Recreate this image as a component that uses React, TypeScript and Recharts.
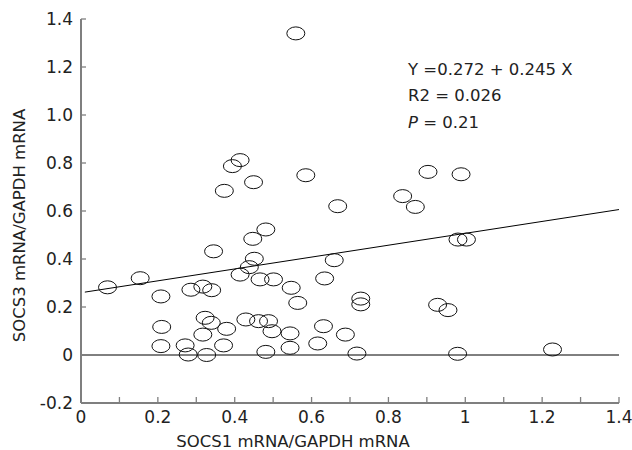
import React from 'react';
import { ScatterChart, Scatter, XAxis, YAxis, ReferenceLine, Label } from 'recharts';

const socs1: number[] = [
  0.559, 0.394, 0.414, 0.449, 0.373, 0.585, 0.668, 0.903, 0.989, 0.837, 0.87,
  0.069, 0.154, 0.208, 0.21, 0.208, 0.271, 0.279, 0.286, 0.317, 0.34, 0.345,
  0.323, 0.339, 0.317, 0.327, 0.379, 0.371, 0.414, 0.438, 0.451, 0.447, 0.481,
  0.466, 0.501, 0.429, 0.462, 0.488, 0.497, 0.481, 0.547, 0.564, 0.544, 0.544,
  0.616, 0.631, 0.634, 0.659, 0.688, 0.718, 0.728, 0.728, 0.981, 1.003, 0.928,
  0.955, 0.98, 1.227,
];
const socs3: number[] = [
  1.34, 0.787, 0.812, 0.72, 0.684, 0.749, 0.62, 0.763, 0.753, 0.662, 0.617,
  0.282, 0.32, 0.244, 0.117, 0.037, 0.04, 0.002, 0.272, 0.285, 0.27, 0.432,
  0.155, 0.134, 0.085, 0.0, 0.109, 0.04, 0.335, 0.366, 0.401, 0.484, 0.523,
  0.315, 0.315, 0.148, 0.141, 0.141, 0.099, 0.013, 0.28, 0.217, 0.09, 0.03,
  0.048, 0.12, 0.319, 0.395, 0.085, 0.006, 0.235, 0.211, 0.481, 0.481, 0.209,
  0.187, 0.005, 0.023,
];

const fitX: number[] = [0.01, 1.4];
const fitY: number[] = [0.262, 0.606];

const xTicks: number[] = [0, 0.1, 0.2, 0.3, 0.4, 0.5, 0.6, 0.7, 0.8, 0.9, 1.0, 1.1, 1.2, 1.3, 1.4];
const xTickLabels: string[] = ['0', '', '0.2', '', '0.4', '', '0.6', '', '0.8', '', '1', '', '1.2', '', '1.4'];
const yTicks: number[] = [-0.2, 0, 0.2, 0.4, 0.6, 0.8, 1.0, 1.2, 1.4];
const yTickLabels: string[] = ['-0.2', '0', '0.2', '0.4', '0.6', '0.8', '1.0', '1.2', '1.4'];

const xTitle = 'SOCS1 mRNA/GAPDH mRNA';
const yTitle = 'SOCS3 mRNA/GAPDH mRNA';
const eqLines: string[] = ['Y =0.272 + 0.245 X', 'R2 = 0.026'];
const pLine = { label: 'P', value: ' = 0.21' };

const points = socs1.map((x, i) => ({ x, y: socs3[i] }));
const fitData = fitX.map((x, i) => ({ x, y: fitY[i] }));

const FONT = 'DejaVu Sans';
const TEXT = '#222';
const AXIS = '#7f7f7f';

const labelFor = (v: number, ticks: number[], labels: string[]) => {
  let best = 0;
  for (let i = 0; i < ticks.length; i++) {
    if (Math.abs(ticks[i] - v) < Math.abs(ticks[best] - v)) best = i;
  }
  return labels[best];
};

const XTick = (props: any) => {
  const { x, y, payload } = props;
  const lbl = labelFor(payload.value, xTicks, xTickLabels);
  return (
    <g>
      <line x1={x} y1={y} x2={x} y2={y - 6} stroke={AXIS} strokeWidth={1.3} />
      {lbl && (
        <text x={x} y={y + 20} textAnchor="middle" fontFamily={FONT} fontSize={17} fill={TEXT}>
          {lbl}
        </text>
      )}
    </g>
  );
};

const YTick = (props: any) => {
  const { x, y, payload } = props;
  const lbl = labelFor(payload.value, yTicks, yTickLabels);
  return (
    <g>
      <line x1={x} y1={y} x2={x + 5} y2={y} stroke={AXIS} strokeWidth={1.3} />
      <text x={x - 8} y={y} dy="0.36em" textAnchor="end" fontFamily={FONT} fontSize={17} fill={TEXT}>
        {lbl}
      </text>
    </g>
  );
};

const Ring = (props: any) => {
  const { cx, cy } = props;
  if (cx == null || cy == null) return <g />;
  return <ellipse cx={cx} cy={cy} rx={9} ry={6.5} fill="none" stroke="#111" strokeWidth={1} />;
};

const NoShape = () => <g />;

export default function App() {
  return (
    <div style={{ position: 'absolute', left: 0, top: 0, width: 632, height: 450, background: '#fff' }}>
      <ScatterChart width={632} height={450} margin={{ top: 19, right: 13, bottom: 0, left: 0 }}>
        <XAxis
          type="number"
          dataKey="x"
          domain={[0, 1.4]}
          ticks={xTicks}
          interval={0}
          height={47}
          tickSize={0}
          tickMargin={0}
          tickLine={false}
          axisLine={{ stroke: AXIS, strokeWidth: 2 }}
          tick={<XTick />}
          allowDataOverflow
        >
          <Label
            content={() => (
              <g>
                <text x={293} y={447} textAnchor="middle" fontFamily={FONT} fontSize={16.5} fill={TEXT}>
                  {xTitle}
                </text>
                <text x={408} y={75} fontFamily={FONT} fontSize={16.5} fill={TEXT}>
                  {eqLines[0]}
                </text>
                <text x={408} y={101} fontFamily={FONT} fontSize={16.5} fill={TEXT}>
                  {eqLines[1]}
                </text>
                <text x={408} y={127.5} fontFamily={FONT} fontSize={16.5} fill={TEXT}>
                  <tspan fontStyle="italic">{pLine.label}</tspan>
                  <tspan>{pLine.value}</tspan>
                </text>
              </g>
            )}
          />
        </XAxis>
        <YAxis
          type="number"
          dataKey="y"
          domain={[-0.2, 1.4]}
          ticks={yTicks}
          interval={0}
          width={81}
          tickSize={0}
          tickMargin={0}
          tickLine={false}
          axisLine={{ stroke: AXIS, strokeWidth: 2 }}
          tick={<YTick />}
          allowDataOverflow
        >
          <Label
            content={() => (
              <text
                x={25}
                y={225.5}
                transform="rotate(-90 25 225.5)"
                textAnchor="middle"
                fontFamily={FONT}
                fontSize={16.5}
                fill={TEXT}
              >
                {yTitle}
              </text>
            )}
          />
        </YAxis>
        <ReferenceLine y={0} stroke="#000" strokeWidth={1} ifOverflow="extendDomain" />
        <Scatter
          data={fitData}
          line={{ stroke: '#000', strokeWidth: 1 }}
          shape={<NoShape />}
          isAnimationActive={false}
          legendType="none"
        />
        <Scatter data={points} shape={<Ring />} isAnimationActive={false} legendType="none" />
      </ScatterChart>
    </div>
  );
}
